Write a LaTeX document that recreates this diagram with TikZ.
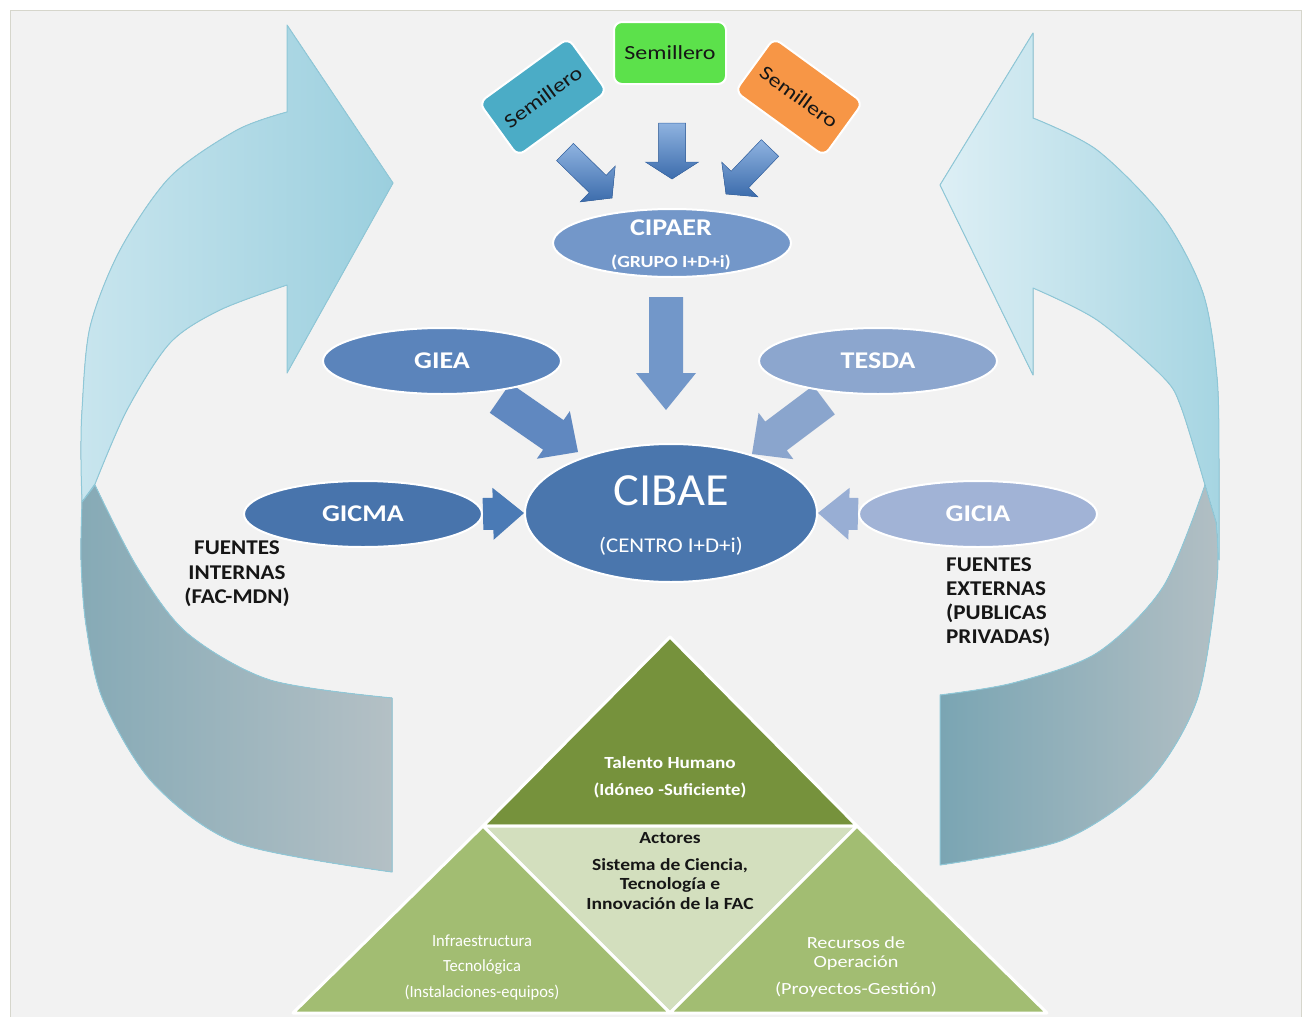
\documentclass[tikz,border=0pt]{standalone}
\usepackage{fontspec}
\setmainfont{Carlito}
\usepackage{graphicx}
\usetikzlibrary{shapes.geometric,calc,backgrounds}
\definecolor{bgc}{HTML}{F2F2F2}
\definecolor{framec}{HTML}{D6D6CC}
\definecolor{semcyan}{HTML}{4BACC6}
\definecolor{semgreen}{HTML}{5CE14B}
\definecolor{semorange}{HTML}{F79646}
\definecolor{cCipaer}{HTML}{7397C9}
\definecolor{cGiea}{HTML}{5B84BB}
\definecolor{cTesda}{HTML}{8CA6CE}
\definecolor{cCibae}{HTML}{4A76AD}
\definecolor{cGicma}{HTML}{4874AC}
\definecolor{cGicia}{HTML}{A1B3D6}
\definecolor{aCip}{HTML}{7297C9}
\definecolor{aGiea}{HTML}{6088C0}
\definecolor{aTesda}{HTML}{8AA5CD}
\definecolor{aGicma}{HTML}{4A7AB5}
\definecolor{aGicia}{HTML}{98AED4}
\definecolor{sLight}{HTML}{8FB3E0}
\definecolor{sDark}{HTML}{3C6CAC}
\definecolor{pTop}{HTML}{76923C}
\definecolor{pMid}{HTML}{D3DFBE}
\definecolor{pSide}{HTML}{A2BD72}
\definecolor{ribLine}{HTML}{8FC8D8}
\definecolor{txtDark}{HTML}{161616}
\definecolor{rLa}{HTML}{C8E5EE}
\definecolor{rLb}{HTML}{DDEFF5}
\definecolor{rLc}{HTML}{9BCFDE}
\definecolor{rGa}{HTML}{86AAB6}
\definecolor{rGb}{HTML}{B4C0C5}
\definecolor{rRa}{HTML}{DDEFF5}
\definecolor{rRb}{HTML}{A6D5E2}
\definecolor{rHa}{HTML}{7AA5B3}
\definecolor{rHb}{HTML}{B2BFC4}
\newcommand\xs[2]{\scalebox{#1}[1]{#2}}
% #1 style, #2 start, #3 end, #4 shaft half width, #5 head half width, #6 head length
\newcommand\blockarr[6]{%
  \path ($(#3)!#6!(#2)$) coordinate (hb);
  \filldraw[#1] ($(#2)!#4!90:(#3)$) -- ($(hb)!#4!90:(#3)$) -- ($(hb)!#5!90:(#3)$) -- (#3)
    -- ($(hb)!#5!-90:(#3)$) -- ($(hb)!#4!-90:(#3)$) -- ($(#2)!#4!-90:(#3)$) -- cycle;}
\begin{document}
\begin{tikzpicture}[x=1pt,y=-1pt,
  ell/.style={ellipse, draw=white, line width=2pt, inner sep=0pt, minimum width=238pt, minimum height=66pt,
     text=white, font=\fontsize{24}{28}\selectfont\bfseries},
  sem/.style={rectangle, rounded corners=8pt, draw=white, line width=2pt, minimum width=112pt, minimum height=62pt,
     text=txtDark, font=\fontsize{20}{24}\selectfont},
  sarr/.style={top color=sLight, bottom color=sDark, draw=sDark, line width=0.5pt},
  barr/.style={draw=none},
  pyr/.style={draw=white, line width=3pt, line join=round},
  wtxt/.style={text=white, inner sep=0pt},
  ktxt/.style={text=txtDark, inner sep=0pt},
  ribA/.style={draw=ribLine, line width=1pt, line join=round}
]
\useasboundingbox (0,0) rectangle (1310,1017);
\begin{scope}[on background layer]
\fill[white] (0,0) rectangle (1310,1017);
\draw[fill=bgc, draw=framec, line width=1pt] (10,10) rectangle (1301,1017);
% left ribbon arrow (light part)
\filldraw[ribA, left color=rLa, middle color=rLb, right color=rLc]
  (287,112) -- plot[smooth] coordinates {(287,112) (237,130) (170,177) (120,250) (90,327) (82,410) (81,460) (82,502)}
  -- (95,484) -- plot[smooth] coordinates {(95,484) (127,410) (170,343) (220,310) (287,285)}
  -- (287,373) -- (393,183) -- (287,25) -- cycle;
% left ribbon (gray part)
\filldraw[ribA, left color=rGa, right color=rGb]
  (392,698) -- plot[smooth] coordinates {(392,698) (270,680) (187,633) (137,567) (95,485)}
  -- (82,502) -- plot[smooth] coordinates {(82,502) (81,560) (86,625) (103,700) (153,783) (237,843) (392,872)} -- cycle;
% right ribbon (light part)
\filldraw[ribA, left color=rRa, right color=rRb]
  (1033,118) -- plot[smooth] coordinates {(1033,118) (1097,150) (1163,217) (1203,293) (1217,377) (1219,460) (1219,560)}
  -- (1205,485) -- plot[smooth] coordinates {(1205,485) (1181,407) (1163,377) (1097,320) (1033,288)}
  -- (1033,375) -- (940,185) -- (1033,33) -- cycle;
% right ribbon (gray part)
\filldraw[ribA, left color=rHa, right color=rHb]
  (940,695) -- plot[smooth] coordinates {(940,695) (1013,683) (1097,653) (1163,587) (1205,485)}
  -- (1216,522) -- plot[smooth] coordinates {(1216,522) (1217,580) (1197,700) (1147,783) (1063,840) (940,865)} -- cycle;
% pyramid
\filldraw[pyr, fill=pTop] (670,637) -- (857,826) -- (483,826) -- cycle;
\filldraw[pyr, fill=pMid] (483,826) -- (857,826) -- (670,1013) -- cycle;
\filldraw[pyr, fill=pSide] (483,826) -- (670,1013) -- (293,1013) -- cycle;
\filldraw[pyr, fill=pSide] (857,826) -- (1047,1013) -- (670,1013) -- cycle;
\end{scope}

% semillero boxes
\node[sem, fill=semgreen] (semC) at (670,53) {\xs{1.2}{Semillero}};
\node[sem, fill=semcyan, rotate=36, minimum width=110pt, minimum height=66pt] (semL) at (543,97) {\xs{1.2}{Semillero}};
\node[sem, fill=semorange, rotate=-36, minimum width=110pt, minimum height=66pt] (semR) at (799,97) {\xs{1.2}{Semillero}};

% ellipses
\node[ell, fill=cCipaer, minimum height=68pt] (cipaer) at (672,243) {};
\node[ell, fill=cGiea] (giea) at (442,361) {\xs{1.17}{GIEA}};
\node[ell, fill=cTesda] (tesda) at (878,361) {\xs{1.17}{TESDA}};
\node[ell, fill=cCibae, minimum width=292pt, minimum height=138pt] (cibae) at (671,513) {};
\node[ell, fill=cGicma] (gicma) at (363,514) {\xs{1.17}{GICMA}};
\node[ell, fill=cGicia] (gicia) at (978,514) {\xs{1.17}{GICIA}};

% texts in ellipses
\node[wtxt, font=\fontsize{24}{28}\selectfont\bfseries] (tCipaer) at (671,228) {\xs{1.17}{CIPAER}};
\node[wtxt, font=\fontsize{17}{20}\selectfont\bfseries] (tGrupo) at (671,262) {\xs{1.17}{(GRUPO I+D+i)}};
\node[wtxt, font=\fontsize{46}{50}\selectfont] (tCibae) at (671,491) {\xs{1.05}{CIBAE}};
\node[wtxt, font=\fontsize{21}{24}\selectfont] (tCentro) at (671,546) {\xs{1.09}{(CENTRO I+D+i)}};

% sources texts
\node[ktxt, align=center, font=\fontsize{21}{24.5}\selectfont\bfseries] (tInt) at (237,574)
  {\xs{1.1}{FUENTES}\\\xs{1.1}{INTERNAS}\\\xs{1.1}{(FAC-MDN)}};
\node[ktxt, align=left, anchor=north west, font=\fontsize{21}{24}\selectfont\bfseries] (tExt) at (946,558)
  {\xs{1.1}{FUENTES}\\\xs{1.1}{EXTERNAS}\\\xs{1.1}{(PUBLICAS}\\\xs{1.1}{PRIVADAS)}};

% pyramid texts
\node[wtxt, font=\fontsize{17}{20}\selectfont\bfseries] (tTal) at (670,763) {\xs{1.13}{Talento Humano}};
\node[wtxt, font=\fontsize{17}{20}\selectfont\bfseries] (tIdo) at (670,790) {\xs{1.1}{(Idóneo -Suficiente)}};
\node[ktxt, font=\fontsize{17}{20}\selectfont\bfseries] (tAct) at (670,838) {\xs{1.15}{Actores}};
\node[ktxt, font=\fontsize{17}{20}\selectfont\bfseries] (tSis) at (670,866) {\xs{1.15}{Sistema de Ciencia,}};
\node[ktxt, font=\fontsize{17}{20}\selectfont\bfseries] (tTec) at (670,885) {\xs{1.15}{Tecnología e}};
\node[ktxt, font=\fontsize{17}{20}\selectfont\bfseries] (tInn) at (670,904) {\xs{1.15}{Innovación de la FAC}};
\node[wtxt, font=\fontsize{17}{20}\selectfont] (tInf) at (482,941) {\xs{0.97}{Infraestructura}};
\node[wtxt, font=\fontsize{17}{20}\selectfont] (tTcn) at (482,967) {\xs{0.97}{Tecnológica}};
\node[wtxt, font=\fontsize{17}{20}\selectfont] (tIns) at (482,993) {\xs{0.97}{(Instalaciones-equipos)}};
\node[wtxt, font=\fontsize{17}{20}\selectfont] (tRec) at (856,943) {\xs{1.19}{Recursos de}};
\node[wtxt, font=\fontsize{17}{20}\selectfont] (tOpe) at (856,963) {\xs{1.19}{Operación}};
\node[wtxt, font=\fontsize{17}{20}\selectfont] (tPro) at (856,990) {\xs{1.19}{(Proyectos-Gestión)}};

% connectors (block arrows), behind the nodes
\coordinate (aLs) at (565,152);
\coordinate (aLe) at (612,198);
\coordinate (aCs) at (672,123);
\coordinate (aCe) at (672,179);
\coordinate (aRs) at (770,148);
\coordinate (aRe) at (726,194);
\coordinate (cipS) at (666,297);
\coordinate (cipE) at (666,410);
\coordinate (gieaS) at (500,398);
\coordinate (gieaE) at (578,452);
\coordinate (tesdaS) at (824,400);
\coordinate (tesdaE) at (752,454);
\begin{scope}[on background layer]
\blockarr{sarr}{aLs}{aLe}{12pt}{25pt}{20pt}
\blockarr{sarr}{aCs}{aCe}{13.5pt}{26.5pt}{17pt}
\blockarr{sarr}{aRs}{aRe}{12pt}{25pt}{20pt}
\blockarr{barr, fill=aCip}{cipS}{cipE}{17pt}{30pt}{37pt}
\blockarr{barr, fill=aGiea}{gieaS}{gieaE}{18pt}{29pt}{30pt}
\blockarr{barr, fill=aTesda}{tesdaS}{tesdaE}{18pt}{29pt}{30pt}
\blockarr{barr, fill=aGicma}{gicma.east}{cibae.west}{16pt}{26pt}{31pt}
\blockarr{barr, fill=aGicia}{gicia.west}{cibae.east}{16pt}{26pt}{31pt}
\end{scope}
\end{tikzpicture}
\end{document}
